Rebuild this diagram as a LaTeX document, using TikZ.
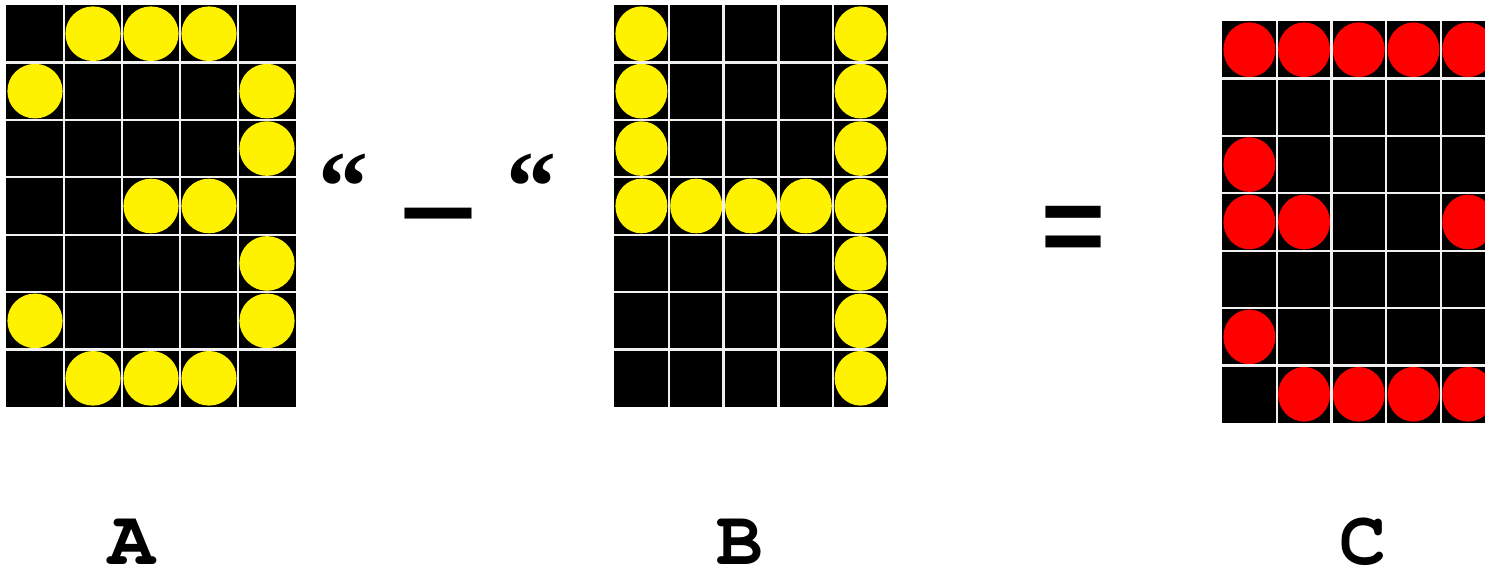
\documentclass[tikz,border=0pt]{standalone}
\usepackage{fontspec}
\newfontfamily\symmono{Liberation Mono}
\newfontfamily\symserif{Liberation Serif}
\newcommand\mytxt[1]{\fontencoding{T1}\fontfamily{pcr}\fontseries{b}\fontshape{n}\fontsize{#1}{#1}\selectfont}
\newcommand\monotxt[1]{\symmono\bfseries\fontsize{#1}{#1}\selectfont}
\newcommand\seriftxt[1]{\symserif\bfseries\fontsize{#1}{#1}\selectfont}
\newcommand\drawgrid[6]{%
  \fill[black] (#1,#2) rectangle ++({5*#3},{7*#4});
  \foreach \c/\r in {#6} {
    \fill[#5] ({#1+(\c+0.5)*#3},{#2+(\r+0.5)*#4}) ellipse [x radius={#3/2-1.4}, y radius={#4/2-1.4}];
  }
  \foreach \i in {1,...,4} \draw[gridline] ({#1+\i*#3},#2) -- ++(0,{7*#4});
  \foreach \j in {1,...,6} \draw[gridline] (#1,{#2+\j*#4}) -- ++({5*#3},0);
}
\tikzset{
  gridline/.style={draw=white!88!gray, line width=2.4pt},
  sym/.style={inner sep=0pt, outer sep=0pt, anchor=base, text=black},
}
\begin{document}
\begin{tikzpicture}[x=1pt,y=-1pt]
\useasboundingbox (0,0) rectangle (1485,573);
\clip (0,0) rectangle (1485,573);
\fill[white] (0,0) rectangle (1485,573);
% grid A
\drawgrid{6}{5}{58}{57.43}{yellow}{1/0,2/0,3/0,0/1,4/1,4/2,2/3,3/3,4/4,0/5,4/5,1/6,2/6,3/6}
% grid B
\drawgrid{614}{5}{54.8}{57.43}{yellow}{0/0,4/0,0/1,4/1,0/2,4/2,0/3,1/3,2/3,3/3,4/3,4/4,4/5,4/6}
% grid C
\drawgrid{1222}{21}{54.7}{57.43}{red}{0/0,1/0,2/0,3/0,4/0,0/2,0/3,1/3,4/3,0/5,1/6,2/6,3/6,4/6}
% symbols
\node[sym] (q1) at (343.5,220) {\seriftxt{100}“};
\node[sym] (minus) at (438,241) {\monotxt{110}—};
\node[sym] (q2) at (531.5,220) {\seriftxt{100}“};
\node[sym] (eq) at (1073,263) {\monotxt{110}=};
% labels
\node[sym] (la) at (131.5,564) {\mytxt{78}A};
\node[sym] (lb) at (740,564) {\mytxt{78}B};
\node[sym] (lc) at (1363,564) {\mytxt{78}C};
\end{tikzpicture}
\end{document}
